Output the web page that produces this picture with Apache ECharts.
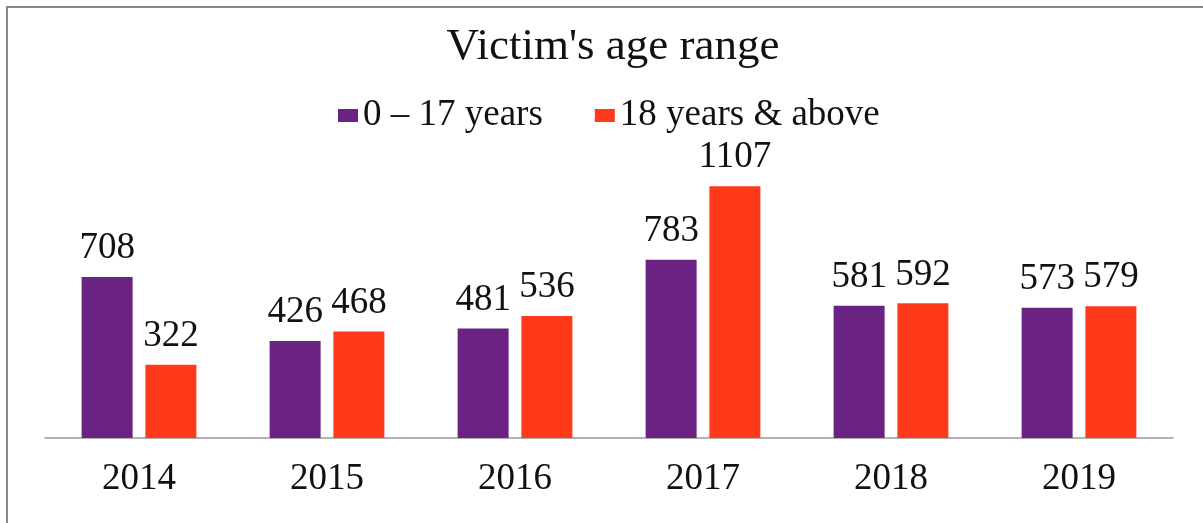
<!DOCTYPE html>
<html>
<head>
<meta charset="utf-8">
<script src="https://cdn.jsdelivr.net/npm/echarts@6/dist/echarts.min.js"></script>
<style>
  html, body { margin: 0; padding: 0; background: #fff; }
  #chart { width: 1203px; height: 523px; }
</style>
</head>
<body>
<div id="chart"></div>
<script>
const years = ["2014", "2015", "2016", "2017", "2018", "2019"];
const under18 = [708, 426, 481, 783, 581, 573];
const adults = [322, 468, 536, 1107, 592, 579];
const seriesNames = ["0 \u2013 17 years", "18 years & above"];

const serif = "'Liberation Serif', 'DejaVu Serif', serif";

const chart = echarts.init(document.getElementById("chart"));

function barSeries(name, data, color) {
  return {
    name: name,
    type: "bar",
    data: data,
    barWidth: 51,
    barGap: "25%",
    itemStyle: { color: color },
    label: {
      show: true,
      position: "top",
      distance: 10,
      color: "#111",
      fontFamily: serif,
      fontSize: 37
    }
  };
}

chart.setOption({
  animation: false,
  title: {
    text: "Victim's age range",
    left: 608,
    textAlign: "center",
    top: 20,
    textStyle: { fontFamily: serif, fontSize: 45, fontWeight: "normal", color: "#111" }
  },
  legend: {
    top: 92,
    left: 333,
    itemWidth: 20,
    itemHeight: 13,
    itemGap: 52,
    icon: "rect",
    textStyle: { fontFamily: serif, fontSize: 37, color: "#111" },
    data: seriesNames
  },
  graphic: [
    {
      type: "rect",
      shape: { x: 7, y: 7, width: 1400, height: 700 },
      style: { fill: "none", stroke: "#888", lineWidth: 2 }
    }
  ],
  grid: { left: 45, right: 30, top: 165, bottom: 85 },
  xAxis: {
    type: "category",
    data: years,
    axisLine: { lineStyle: { color: "#999", width: 1.5 } },
    axisTick: { show: false },
    axisLabel: { fontFamily: serif, fontSize: 37, color: "#111", margin: 23 }
  },
  yAxis: {
    type: "value",
    min: 0,
    max: 1200,
    show: false,
    splitLine: { show: false }
  },
  series: [
    barSeries(seriesNames[0], under18, "#6b2383"),
    barSeries(seriesNames[1], adults, "#ff3a1a")
  ]
});
</script>
</body>
</html>
